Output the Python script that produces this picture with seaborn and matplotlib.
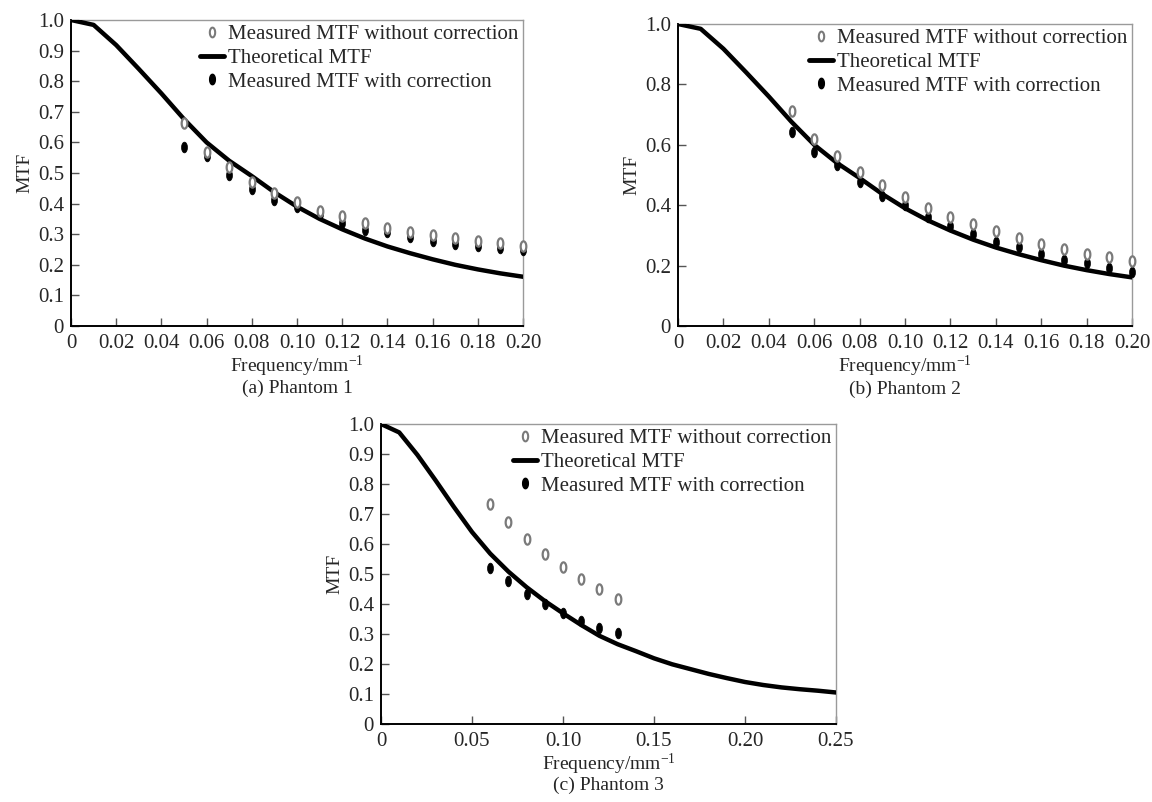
import numpy as np
import pandas as pd
import matplotlib
matplotlib.use("Agg")
import matplotlib.pyplot as plt
import seaborn as sns
from matplotlib.path import Path
from matplotlib.lines import Line2D

# theoretical MTF, phantoms 1 and 2 share the same curve
freq_ab = [0.00, 0.01, 0.02, 0.03, 0.04, 0.05, 0.06, 0.07, 0.08, 0.09, 0.10,
           0.11, 0.12, 0.13, 0.14, 0.15, 0.16, 0.17, 0.18, 0.19, 0.20]
theory_ab = [1.00, 0.984, 0.918, 0.84, 0.76, 0.676, 0.600, 0.540, 0.490, 0.437, 0.390,
             0.350, 0.316, 0.286, 0.260, 0.238, 0.218, 0.200, 0.185, 0.172, 0.161]

meas_freq_ab = [0.05, 0.06, 0.07, 0.08, 0.09, 0.10, 0.11, 0.12,
                0.13, 0.14, 0.15, 0.16, 0.17, 0.18, 0.19, 0.20]
p1_without = [0.662, 0.570, 0.520, 0.470, 0.435, 0.405, 0.377, 0.360,
              0.338, 0.320, 0.308, 0.297, 0.286, 0.279, 0.272, 0.262]
p1_with = [0.584, 0.556, 0.493, 0.447, 0.412, 0.388, 0.365, 0.335,
           0.314, 0.308, 0.292, 0.279, 0.267, 0.260, 0.254, 0.250]
p2_without = [0.712, 0.618, 0.562, 0.510, 0.466, 0.428, 0.392, 0.361,
              0.337, 0.315, 0.293, 0.273, 0.256, 0.240, 0.227, 0.214]
p2_with = [0.643, 0.575, 0.533, 0.477, 0.430, 0.400, 0.361, 0.330,
           0.304, 0.278, 0.260, 0.240, 0.220, 0.207, 0.192, 0.179]

# phantom 3
freq_c = [0.00, 0.01, 0.02, 0.03, 0.04, 0.05, 0.06, 0.07, 0.08, 0.09, 0.10, 0.11, 0.12,
          0.13, 0.14, 0.15, 0.16, 0.17, 0.18, 0.19, 0.20, 0.21, 0.22, 0.23, 0.24, 0.25]
theory_c = [1.00, 0.972, 0.897, 0.812, 0.724, 0.640, 0.568, 0.508, 0.456, 0.410, 0.369, 0.330, 0.294,
            0.266, 0.243, 0.219, 0.199, 0.183, 0.167, 0.153, 0.140, 0.130, 0.122, 0.116, 0.111, 0.105]
meas_freq_c = [0.06, 0.07, 0.08, 0.09, 0.10, 0.11, 0.12, 0.13]
p3_without = [0.734, 0.672, 0.617, 0.567, 0.524, 0.485, 0.449, 0.417]
p3_with = [0.520, 0.476, 0.432, 0.400, 0.371, 0.343, 0.321, 0.305]

sns.set_style("white")
plt.rcParams['font.family'] = ['Liberation Serif', 'DejaVu Serif']
plt.rcParams['mathtext.fontset'] = 'custom'
plt.rcParams['mathtext.rm'] = 'Liberation Serif'
plt.rcParams['mathtext.default'] = 'regular'

# tall ellipse marker like the original figure
t = np.linspace(0, 2 * np.pi, 41)
ellipse = Path(np.column_stack([0.55 * np.cos(t), np.sin(t)]), closed=True)

GREY = '#7a7a7a'
FS = 15
LFS = 14

fig = plt.figure(figsize=(11.52, 8.02), dpi=100)
ax_a = fig.add_axes([71 / 1152, 1 - 326 / 802, 452 / 1152, 306 / 802])
ax_b = fig.add_axes([678 / 1152, 1 - 326 / 802, 454 / 1152, 302 / 802])
ax_c = fig.add_axes([381 / 1152, 1 - 724 / 802, 455 / 1152, 300 / 802])


def draw_panel(ax, fx, fy, mx, without, with_, xticks, xlabels, yticks, ylabels, xmax):
    sns.lineplot(x=fx, y=fy, ax=ax, color='black', lw=3.2, zorder=3)
    sns.scatterplot(x=mx, y=with_, ax=ax, marker=ellipse, s=60, color='black',
                    edgecolor='black', linewidth=0.5, zorder=4, clip_on=False)
    sns.scatterplot(x=mx, y=without, ax=ax, marker=ellipse, s=55, facecolor='white',
                    edgecolor=GREY, linewidth=1.6, zorder=5, clip_on=False)
    ax.set_xlim(0, xmax)
    ax.set_ylim(0, 1.0)
    ax.set_xticks(xticks)
    ax.set_xticklabels(xlabels, fontsize=FS)
    ax.set_yticks(yticks)
    ax.set_yticklabels(ylabels, fontsize=FS)
    ax.tick_params(direction='in', length=6, width=1, color='#555555',
                   bottom=True, left=True, top=False, right=False)
    ax.tick_params(axis='y', pad=5)
    ax.tick_params(axis='x', pad=6)
    for s in ['left', 'bottom']:
        ax.spines[s].set_color('black')
        ax.spines[s].set_linewidth(1.4)
    for s in ['top', 'right']:
        ax.spines[s].set_color('#9a9a9a')
        ax.spines[s].set_linewidth(1.0)
    ax.set_xlabel(r'Frequency/mm$^{-1}$', fontsize=LFS, labelpad=0)
    ax.set_ylabel('MTF', fontsize=LFS, labelpad=3)

    handles = [
        Line2D([], [], ls='none', marker=ellipse, ms=7, mfc='white', mec=GREY, mew=1.5),
        Line2D([], [], color='black', lw=3.5),
        Line2D([], [], ls='none', marker=ellipse, ms=7.5, mfc='black', mec='black'),
    ]
    labels = ['Measured MTF without correction', 'Theoretical MTF',
              'Measured MTF with correction']
    ax.legend(handles, labels, loc='upper right', bbox_to_anchor=(0.99, 0.985),
              frameon=False, fontsize=15, handlelength=1.15, handletextpad=0.2,
              labelspacing=0.2, borderpad=0.0, borderaxespad=0.0)


x_ab = [0, 0.02, 0.04, 0.06, 0.08, 0.10, 0.12, 0.14, 0.16, 0.18, 0.20]
x_ab_lab = ['0', '0.02', '0.04', '0.06', '0.08', '0.10', '0.12', '0.14', '0.16', '0.18', '0.20']
y_ten = [0, 0.1, 0.2, 0.3, 0.4, 0.5, 0.6, 0.7, 0.8, 0.9, 1.0]
y_ten_lab = ['0', '0.1', '0.2', '0.3', '0.4', '0.5', '0.6', '0.7', '0.8', '0.9', '1.0']
y_five = [0, 0.2, 0.4, 0.6, 0.8, 1.0]
y_five_lab = ['0', '0.2', '0.4', '0.6', '0.8', '1.0']
x_c = [0, 0.05, 0.10, 0.15, 0.20, 0.25]
x_c_lab = ['0', '0.05', '0.10', '0.15', '0.20', '0.25']

draw_panel(ax_a, freq_ab, theory_ab, meas_freq_ab, p1_without, p1_with,
           x_ab, x_ab_lab, y_ten, y_ten_lab, 0.20)
draw_panel(ax_b, freq_ab, theory_ab, meas_freq_ab, p2_without, p2_with,
           x_ab, x_ab_lab, y_five, y_five_lab, 0.20)
draw_panel(ax_c, freq_c, theory_c, meas_freq_c, p3_without, p3_with,
           x_c, x_c_lab, y_ten, y_ten_lab, 0.25)

fig.text(297 / 1152, 1 - 388 / 802, '(a) Phantom 1', ha='center', va='center', fontsize=LFS)
fig.text(905 / 1152, 1 - 389 / 802, '(b) Phantom 2', ha='center', va='center', fontsize=LFS)
fig.text(608 / 1152, 1 - 785 / 802, '(c) Phantom 3', ha='center', va='center', fontsize=LFS)

fig.savefig('out.png', dpi=100)
